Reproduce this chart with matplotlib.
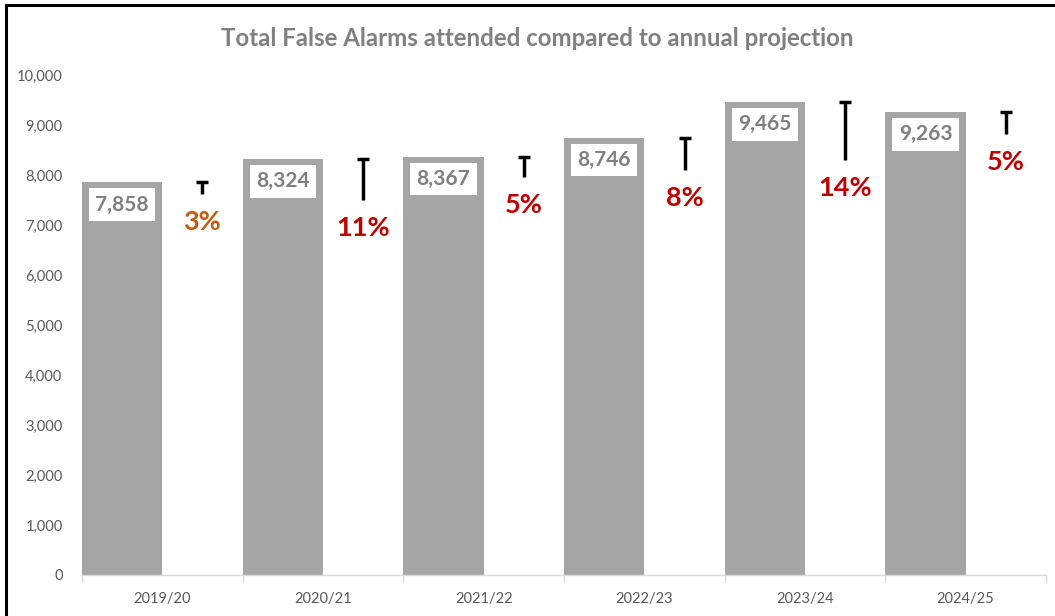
import matplotlib
matplotlib.use("Agg")
import matplotlib.pyplot as plt
from matplotlib.lines import Line2D
import numpy as np

categories = ["2019/20", "2020/21", "2021/22", "2022/23", "2023/24", "2024/25"]
actual = [7858, 8324, 8367, 8746, 9465, 9263]
projection = [7629, 7499, 7969, 8098, 8303, 8822]
pct_labels = ["3%", "11%", "5%", "8%", "14%", "5%"]
pct_colors = ["#C55A11", "#C00000", "#C00000", "#C00000", "#C00000", "#C00000"]
value_labels = ["7,858", "8,324", "8,367", "8,746", "9,465", "9,263"]

plt.rcParams['font.family'] = ['Lato', 'DejaVu Sans']

fig = plt.figure(figsize=(10.55, 6.16), dpi=100)
ax = fig.add_axes([82/1055, 1-575/616, (1046-82)/1055, 500/616])

x = np.arange(len(categories))
bar_x = x - 0.25
err_x = x + 0.25

ax.bar(bar_x, actual, width=0.5, color="#A5A5A5", zorder=2)

for xi, a, lab in zip(bar_x, actual, value_labels):
    ax.annotate(lab, (xi, a), xytext=(0, -9), textcoords="offset points",
                ha="center", va="top", fontsize=15, fontweight="bold", color="#7F7F7F",
                bbox=dict(boxstyle="square,pad=0.3", fc="white", ec="none"), zorder=4)

ax.vlines(err_x, projection, actual, colors="black", linewidth=2.5, zorder=3)
ax.plot(err_x, actual, linestyle="none", marker="_", markersize=9, mew=2.5, color="black", zorder=3)

for xi, p, lab, c in zip(err_x, projection, pct_labels, pct_colors):
    ax.annotate(lab, (xi, p), xytext=(0, -11.5), textcoords="offset points",
                ha="center", va="top", fontsize=19.5, fontweight="bold", color=c, zorder=4)

ax.set_xlim(-0.5, len(categories) - 0.5)
ax.set_ylim(0, 10000)
ax.set_yticks(np.arange(0, 10001, 1000))
ax.set_yticklabels([f"{v:,}" for v in range(0, 10001, 1000)])
ax.set_xticks(x)
ax.set_xticklabels(categories)
ax.set_xticks(np.arange(-0.5, len(categories)), minor=True)
ax.tick_params(axis="x", which="major", length=0, pad=12, labelsize=10.5, labelcolor="#595959")
ax.tick_params(axis="x", which="minor", length=5, color="#D9D9D9", width=1)
ax.tick_params(axis="y", length=0, pad=14, labelsize=10.5, labelcolor="#595959")

for s in ["left", "right", "top"]:
    ax.spines[s].set_visible(False)
ax.spines["bottom"].set_color("#D9D9D9")
ax.spines["bottom"].set_linewidth(1)

fig.text(537/1055, 1-38/616, "Total False Alarms attended compared to annual projection",
         ha="center", va="center", fontsize=17.3, fontweight="bold", color="#808080")

# border on left and top
fig.add_artist(Line2D([6/1055, 6/1055], [0, 1-5/616], transform=fig.transFigure, color="black", lw=2.2))
fig.add_artist(Line2D([6/1055, 1], [1-5/616, 1-5/616], transform=fig.transFigure, color="black", lw=2.2))

fig.savefig("out.png", dpi=100)
